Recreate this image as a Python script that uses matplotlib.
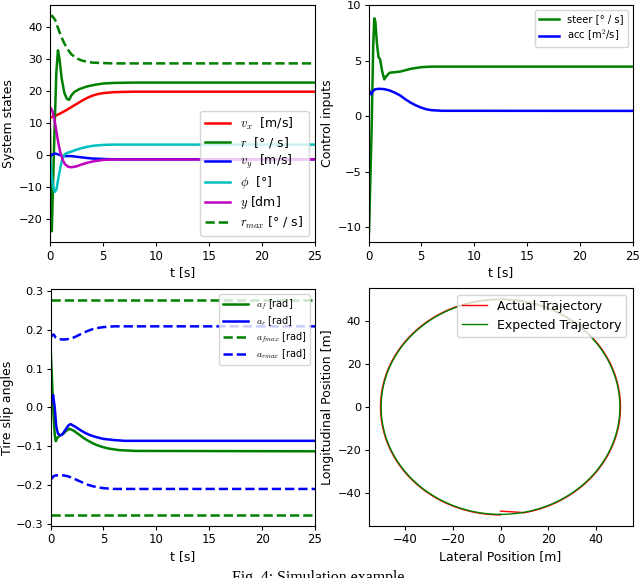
import numpy as np
import matplotlib
matplotlib.use("Agg")
import matplotlib.pyplot as plt

plt.rcParams['font.family'] = ['DejaVu Sans']
plt.rcParams['mathtext.fontset'] = 'cm'
plt.rcParams['font.size'] = 9
plt.rcParams['xtick.labelsize'] = 8.5
plt.rcParams['ytick.labelsize'] = 8.2
plt.rcParams['xtick.major.size'] = 3
plt.rcParams['ytick.major.size'] = 3
plt.rcParams['xtick.major.pad'] = 2.5
plt.rcParams['ytick.major.pad'] = 2.2
plt.rcParams['axes.labelpad'] = 2.5

# ---------------- System states ----------------
t_vx = [0, 0.5, 1, 1.5, 2, 2.5, 3, 3.5, 4, 4.5, 5, 6, 7, 8, 25]
vx = [11.7, 12.3, 13.1, 14.0, 15.0, 16.0, 17.0, 17.9, 18.6, 19.1, 19.4, 19.7, 19.8, 19.85, 19.85]

t_r = [0, 0.08, 0.17, 0.25, 0.42, 0.6, 0.75, 0.9, 1.1, 1.35, 1.6, 1.8, 2.0, 2.3, 2.8, 3.5, 4.2, 5, 6, 8, 25]
r = [8, -10, -23.8, -14, 7, 26, 32.8, 30, 24, 19.5, 17.6, 17.3, 18.6, 19.8, 20.7, 21.5, 22.0, 22.4, 22.6, 22.7, 22.7]

t_vy = [0, 0.2, 0.5, 0.8, 1.1, 1.5, 2.0, 2.5, 3, 3.5, 4, 5, 6, 25]
vy = [-0.5, 0.2, 0.5, 0.2, -0.2, -0.3, -0.3, -0.5, -0.7, -0.9, -1.05, -1.2, -1.3, -1.3]

t_phi = [0, 0.15, 0.3, 0.45, 0.6, 0.8, 1.0, 1.2, 1.4, 1.7, 2.0, 2.5, 3.0, 3.5, 4, 5, 6, 8, 25]
phi = [-0.5, -6, -10, -11.5, -10.8, -7, -3.5, -0.8, 0.3, 0.8, 1.1, 1.7, 2.2, 2.6, 2.9, 3.2, 3.3, 3.3, 3.3]

t_y = [0, 0.2, 0.4, 0.6, 0.8, 1.0, 1.2, 1.4, 1.7, 2.0, 2.5, 3, 3.5, 4, 5, 6, 25]
ypos = [15, 14, 11.5, 7.5, 3.5, 0.5, -1.5, -2.8, -3.6, -3.8, -3.5, -2.9, -2.4, -2.0, -1.5, -1.35, -1.35]

t_rmax = [0, 0.2, 0.5, 0.75, 1.0, 1.3, 1.6, 2.0, 2.5, 3.0, 3.5, 4.0, 5, 6, 25]
rmax = [43.3, 43.6, 42.2, 39.8, 37.6, 35.3, 33.4, 31.6, 30.3, 29.6, 29.2, 28.95, 28.8, 28.7, 28.7]

# ---------------- Control inputs ----------------
t_steer = [0, 0.05, 0.3, 0.45, 0.55, 0.65, 0.8, 0.95, 1.1, 1.3, 1.5, 1.7, 2.0, 2.5, 3.0, 4.0, 5.0, 6, 25]
steer = [-10.4, -10.5, -1, 6.5, 8.8, 8.5, 6.5, 5.3, 5.1, 4.0, 3.3, 3.6, 3.9, 3.95, 4.0, 4.25, 4.4, 4.45, 4.45]

t_acc = [0, 0.1, 0.25, 0.4, 0.6, 1.0, 1.5, 2.0, 2.5, 3.0, 3.5, 4.0, 4.5, 5.0, 5.5, 6, 7, 25]
acc = [2.5, 2.2, 1.95, 2.2, 2.4, 2.45, 2.42, 2.3, 2.1, 1.85, 1.5, 1.2, 0.95, 0.75, 0.6, 0.52, 0.47, 0.46]

# ---------------- Tire slip angles ----------------
t_af = [0, 0.1, 0.25, 0.4, 0.5, 0.65, 0.9, 1.2, 1.5, 1.8, 2.2, 2.7, 3.2, 3.7, 4.2, 4.8, 5.5, 6.5, 8, 25]
af = [0.16, 0.1, 0.0, -0.07, -0.087, -0.078, -0.072, -0.068, -0.06, -0.055, -0.06, -0.07, -0.08, -0.088,
      -0.095, -0.101, -0.106, -0.11, -0.112, -0.113]

t_ar = [0, 0.1, 0.25, 0.4, 0.55, 0.7, 0.9, 1.1, 1.4, 1.7, 1.9, 2.3, 2.8, 3.3, 3.8, 4.4, 5, 6, 7, 25]
ar = [0.0, 0.02, 0.032, 0.0, -0.05, -0.067, -0.072, -0.07, -0.058, -0.046, -0.043, -0.049, -0.058,
      -0.066, -0.072, -0.077, -0.081, -0.084, -0.086, -0.086]

t_afmax = [0, 25]
afmax = [0.277, 0.277]

t_armax = [0, 0.15, 0.3, 0.5, 0.8, 1.2, 1.6, 2.0, 2.5, 3.0, 3.5, 4.0, 4.5, 5.0, 6, 25]
armax_up = [0.178, 0.186, 0.188, 0.18, 0.176, 0.175, 0.176, 0.178, 0.184, 0.191, 0.197, 0.202, 0.205,
            0.207, 0.209, 0.209]
armax_lo = [-0.186, -0.182, -0.177, -0.175, -0.175, -0.175, -0.177, -0.181, -0.187, -0.193, -0.199,
            -0.203, -0.206, -0.208, -0.21, -0.21]

# ---------------- Trajectory ----------------
R_expected = 50.0
R_actual = 50.25
actual_start_x = [0, 3, 6, 9]
actual_start_y = [-48.5, -48.7, -48.9, -49.1]

t_ticks = [0, 5, 10, 15, 20, 25]

fig = plt.figure(figsize=(6.4, 5.78), dpi=100)

# Top-left
ax1 = fig.add_axes([50/640, 1-242/578, 265/640, 237/578])
lw = 1.8
ax1.plot(t_vx, vx, color='r', lw=lw, label=r'$v_x$  [m/s]')
ax1.plot(t_r, r, color='g', lw=lw, label=r'$r$  [° / s]')
ax1.plot(t_vy, vy, color='b', lw=lw, label=r'$v_y$  [m/s]')
ax1.plot(t_phi, phi, color='c', lw=lw, label=r'$\phi$  [°]')
ax1.plot(t_y, ypos, color='m', lw=lw, label=r'$y$ [dm]')
ax1.plot(t_rmax, rmax, color='g', lw=lw, ls='--', label=r'$r_{max}$ [° / s]')
ax1.set_xlim(0, 25)
ax1.set_xticks(t_ticks)
ax1.set_yticks([-20, -10, 0, 10, 20, 30, 40])
ax1.set_xlabel('t [s]')
ax1.set_ylabel('System states')
ax1.legend(loc='lower right', fontsize=9, labelspacing=0.25)

# Top-right
ax2 = fig.add_axes([368.5/640, 1-242/578, 264/640, 237/578])
ax2.plot(t_steer, steer, color='g', lw=lw, label='steer [° / s]')
ax2.plot(t_acc, acc, color='b', lw=lw, label='acc [m$^2$/s]')
ax2.set_xlim(0, 25)
ax2.set_ylim(-11.35, 10)
ax2.set_xticks(t_ticks)
ax2.set_yticks([-10, -5, 0, 5, 10])
ax2.set_xlabel('t [s]')
ax2.set_ylabel('Control inputs')
ax2.legend(loc='upper right', fontsize=7.2, labelspacing=0.4)

# Bottom-left
ax3 = fig.add_axes([50.5/640, 1-525.7/578, 264.5/640, 236.5/578])
ax3.plot(t_af, af, color='g', lw=lw, label=r'$a_f$ [rad]')
ax3.plot(t_ar, ar, color='b', lw=lw, label=r'$a_r$ [rad]')
ax3.plot(t_afmax, afmax, color='g', lw=lw, ls='--', label=r'$a_{fmax}$ [rad]')
ax3.plot(t_armax, armax_up, color='b', lw=lw, ls='--', label=r'$a_{rmax}$ [rad]')
ax3.plot(t_afmax, [-v for v in afmax], color='g', lw=lw, ls='--')
ax3.plot(t_armax, armax_lo, color='b', lw=lw, ls='--')
ax3.set_xlim(0, 25)
ax3.set_xticks(t_ticks)
ax3.set_yticks([-0.3, -0.2, -0.1, 0.0, 0.1, 0.2, 0.3])
ax3.set_xlabel('t [s]')
ax3.set_ylabel('Tire slip angles', labelpad=1.5)
ax3.legend(loc='upper right', fontsize=7, labelspacing=0.25, handlelength=2.6)

# Bottom-right
ax4 = fig.add_axes([368.5/640, 1-525.7/578, 264/640, 237.4/578])
theta = np.linspace(0, 2*np.pi, 721)
th_act = theta[theta >= np.arcsin(9/R_actual)]
ax_x = list(actual_start_x) + list(R_actual*np.sin(th_act))
ax_y = list(actual_start_y) + list(-R_actual*np.cos(th_act))
ax4.plot(ax_x, ax_y, color='r', lw=1, label='Actual Trajectory')
ax4.plot(R_expected*np.sin(theta), -R_expected*np.cos(theta), color='g', lw=1, label='Expected Trajectory')
ax4.set_xticks([-40, -20, 0, 20, 40])
ax4.set_yticks([-40, -20, 0, 20, 40])
ax4.set_xlabel('Lateral Position [m]')
ax4.set_ylabel('Longitudinal Position [m]')
ax4.legend(loc='upper right', fontsize=9)

fig.text(0.5, 1-582/578, 'Fig. 4: Simulation example.', ha='center', va='baseline',
         family='Liberation Serif', fontsize=11.4)

fig.savefig('out.png', dpi=100)
